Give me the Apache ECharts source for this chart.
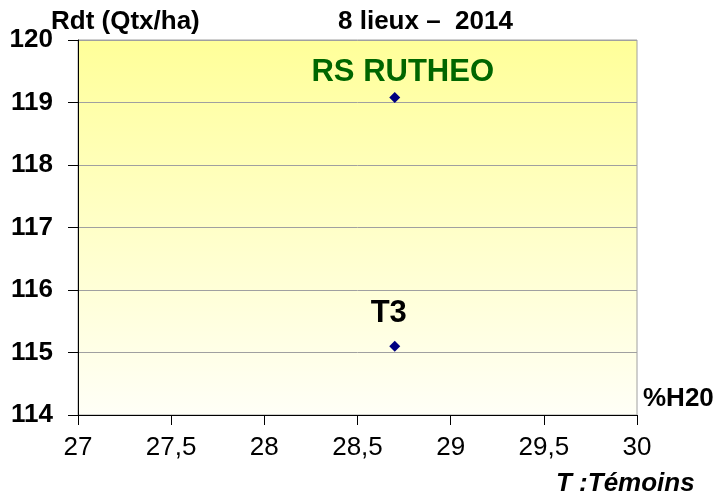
<!DOCTYPE html>
<html>
<head>
	<meta charset="utf-8">
	<title>Rdt - %H20</title>
</head>
<body style="margin:0;">
	<div style="width:713px;height:496px;" id="chart1"></div>

	<script src="https://cdn.jsdelivr.net/npm/echarts@6/dist/echarts.min.js"></script>
	<script>
	// données
	var varietes = ['RS RUTHEO', 'T3'];
	var humidite = [28.7, 28.7];
	var rendement = [119.08, 115.1];
	var couleursLabel = ['#006600', '#000000'];

	var FONT = '"Liberation Sans", Arial, sans-serif';

	var points = [];
	for (var i = 0; i < varietes.length; i++) {
		points.push({
			name: varietes[i],
			value: [humidite[i], rendement[i]],
			label: {
				color: couleursLabel[i],
				fontSize: 31,
				offset: i === 0 ? [8, -25] : [-6, -33]
			}
		});
	}

	var myChart = echarts.init(document.getElementById('chart1'));

	var titre = { fontSize: 26, fontWeight: 'bold', color: '#000', fontFamily: FONT };

	var option = {
		backgroundColor: '#ffffff',
		animation: false,
		textStyle: { fontFamily: FONT },
		title: [
			{ text: 'Rdt (Qtx/ha)', left: 51, top: 9, padding: 0, textStyle: titre },
			{ text: '8 lieux \u2013  2014', left: 338, top: 9, padding: 0, textStyle: titre },
			{ text: '%H20', left: 643, top: 386, padding: 0, textStyle: titre },
			{ text: 'T :Témoins', left: 556, top: 471, padding: 0,
			  textStyle: { fontSize: 26, fontWeight: 'bold', fontStyle: 'italic', color: '#000', fontFamily: FONT } }
		],
		grid: {
			left: 78, right: 76, top: 40, bottom: 81,
			show: true,
			borderColor: '#a0a0a0',
			borderWidth: 1,
			backgroundColor: new echarts.graphic.LinearGradient(0, 0, 0, 1, [
				{ offset: 0, color: '#ffff99' },
				{ offset: 1, color: '#fffff7' }
			])
		},
		xAxis: {
			type: 'value',
			min: 27, max: 30, interval: 0.5,
			axisLine: { show: true, onZero: false, lineStyle: { color: '#000', width: 1 } },
			axisTick: { show: true, length: 10, lineStyle: { color: '#000' } },
			splitLine: { show: false },
			axisLabel: {
				margin: 20, fontSize: 26, color: '#000', fontFamily: FONT,
				formatter: function (v) { return String(v).replace('.', ','); }
			}
		},
		yAxis: {
			type: 'value',
			min: 114, max: 120, interval: 1,
			axisLine: { show: true, onZero: false, lineStyle: { color: '#000', width: 1 } },
			axisTick: { show: true, length: 10, lineStyle: { color: '#000' } },
			splitLine: { show: true, lineStyle: { color: '#a0a0a0', width: 1 } },
			axisLabel: { margin: 25, fontSize: 26, fontWeight: 'bold', color: '#000', fontFamily: FONT }
		},
		series: [{
			type: 'scatter',
			symbol: 'diamond',
			symbolSize: 11,
			itemStyle: { color: '#000080', opacity: 1 },
			label: {
				show: true,
				position: 'inside',
				fontWeight: 'bold',
				fontFamily: FONT,
				formatter: '{b}'
			},
			data: points
		}]
	};

	myChart.setOption(option);
	</script>
</body>
</html>
